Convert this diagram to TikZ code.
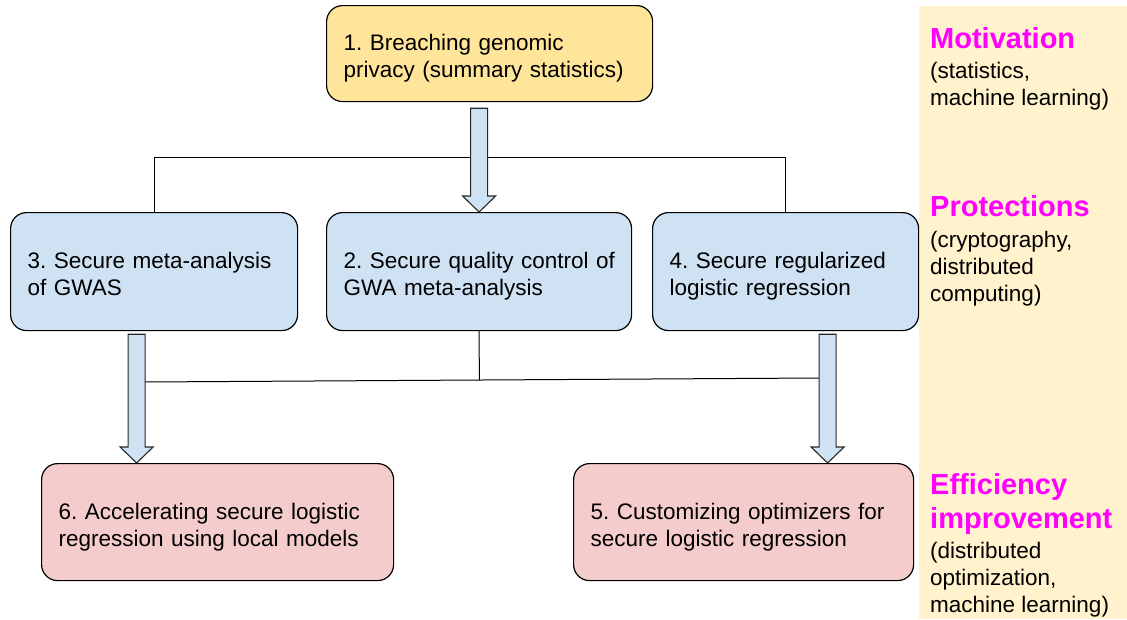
\documentclass[tikz,border=0pt]{standalone}
\usepackage{fontspec}
\setmainfont{Liberation Sans}
\usetikzlibrary{calc}
\frenchspacing

\definecolor{stageyellow}{HTML}{FFE599}
\definecolor{stageblue}{HTML}{CFE2F3}
\definecolor{stagepink}{HTML}{F4CCCC}
\definecolor{panelcream}{HTML}{FFF2CC}
\definecolor{headmagenta}{HTML}{FF00FF}

\newcommand\boxfont{\fontsize{22.5}{27}\selectfont}
% two fixed lines with struts so the block sits like the drawing tool's text
\newcommand\twolines[2]{\rule{0pt}{26pt}\mbox{#1}\\\mbox{#2}\rule[-5pt]{0pt}{5pt}}
% wide outlined arrow from a start point down to a tip point
\newcommand\blockarrow[2]{%
  \draw[blockarrow] ($(#1)+(-8.5,0)$) -- ($(#2)+(-8.5,-16)$) -- ($(#2)+(-16.5,-16)$)
    -- (#2) -- ($(#2)+(16.5,-16)$) -- ($(#2)+(8.5,-16)$) -- ($(#1)+(8.5,0)$) -- cycle;}

\begin{document}
\begin{tikzpicture}[x=1pt,y=-1pt,
  stage/.style={draw=black, line width=1.2pt, rounded corners=16pt, anchor=north west,
    inner xsep=17pt, inner ysep=0pt, align=left, font=\boxfont},
  bus/.style={draw=black, line width=1pt},
  blockarrow/.style={draw=black!85, line width=1.1pt, fill=stageblue, line join=miter},
  heading/.style={anchor=base west, inner sep=0pt, text=headmagenta,
    font=\fontsize{29}{34}\selectfont\bfseries},
  note/.style={anchor=base west, inner sep=0pt, font=\boxfont}]

\useasboundingbox (0,0) rectangle (1127,619);

% side panel
\fill[panelcream] (919,6) rectangle (1127,619);

% stages
\node[stage, fill=stageyellow, text width=292pt, minimum height=96pt] (b1) at (326,5)
  {\twolines{1. Breaching genomic}{privacy (summary statistics)}};
\node[stage, fill=stageblue, text width=253pt, minimum height=118pt] (b3) at (10,212)
  {\twolines{3. Secure meta-analysis}{of GWAS}};
\node[stage, fill=stageblue, text width=271pt, minimum height=118pt] (b2) at (326,212)
  {\twolines{2. Secure quality control of}{GWA meta-analysis}};
\node[stage, fill=stageblue, text width=232pt, minimum height=118pt] (b4) at (652,212)
  {\twolines{4. Secure regularized}{logistic regression}};
\node[stage, fill=stagepink, text width=318pt, minimum height=117pt] (b6) at (41,463)
  {\twolines{6. Accelerating secure logistic}{regression using local models}};
\node[stage, fill=stagepink, text width=306pt, minimum height=117pt] (b5) at (573,463)
  {\twolines{5. Customizing optimizers for}{secure logistic regression}};

% upper bus joining stages 3 and 4
\draw[bus] (b3.north) -- (b3.north |- 0,157) -- (b4.north |- 0,157) -- (b4.north);

% lower bus from stage 2
\coordinate (jl) at (144,382);
\coordinate (jr) at (819,378);
\draw[bus] (jl) -- (jr);
\draw[bus] (b2.south) -- ($(jl)!(b2.south)!(jr)$);

% block arrows
\coordinate (a1s) at ($(b1.south -| b2.north)+(0,6)$);
\blockarrow{a1s}{b2.north}
\coordinate (a2s) at ($(b3.south)+(-17.5,3)$);
\coordinate (a2e) at (a2s |- b6.north);
\blockarrow{a2s}{a2e}
\coordinate (a3s) at ($(b4.south)+(42,3)$);
\coordinate (a3e) at (a3s |- b5.north);
\blockarrow{a3s}{a3e}

% side legend
\node[heading] (hmot) at (930,48) {Motivation};
\node[note] (nmot1) at (930,78) {(statistics,};
\node[note] (nmot2) at (930,105) {machine learning)};

\node[heading] (hpro) at (930,216) {Protections};
\node[note] (npro1) at (930,247) {(cryptography,};
\node[note] (npro2) at (930,274) {distributed};
\node[note] (npro3) at (930,301) {computing)};

\node[heading] (heff1) at (930,494) {Efficiency};
\node[heading] (heff2) at (930,528) {improvement};
\node[note] (neff1) at (930,558) {(distributed};
\node[note] (neff2) at (930,585) {optimization,};
\node[note] (neff3) at (930,612) {machine learning)};
\end{tikzpicture}
\end{document}
